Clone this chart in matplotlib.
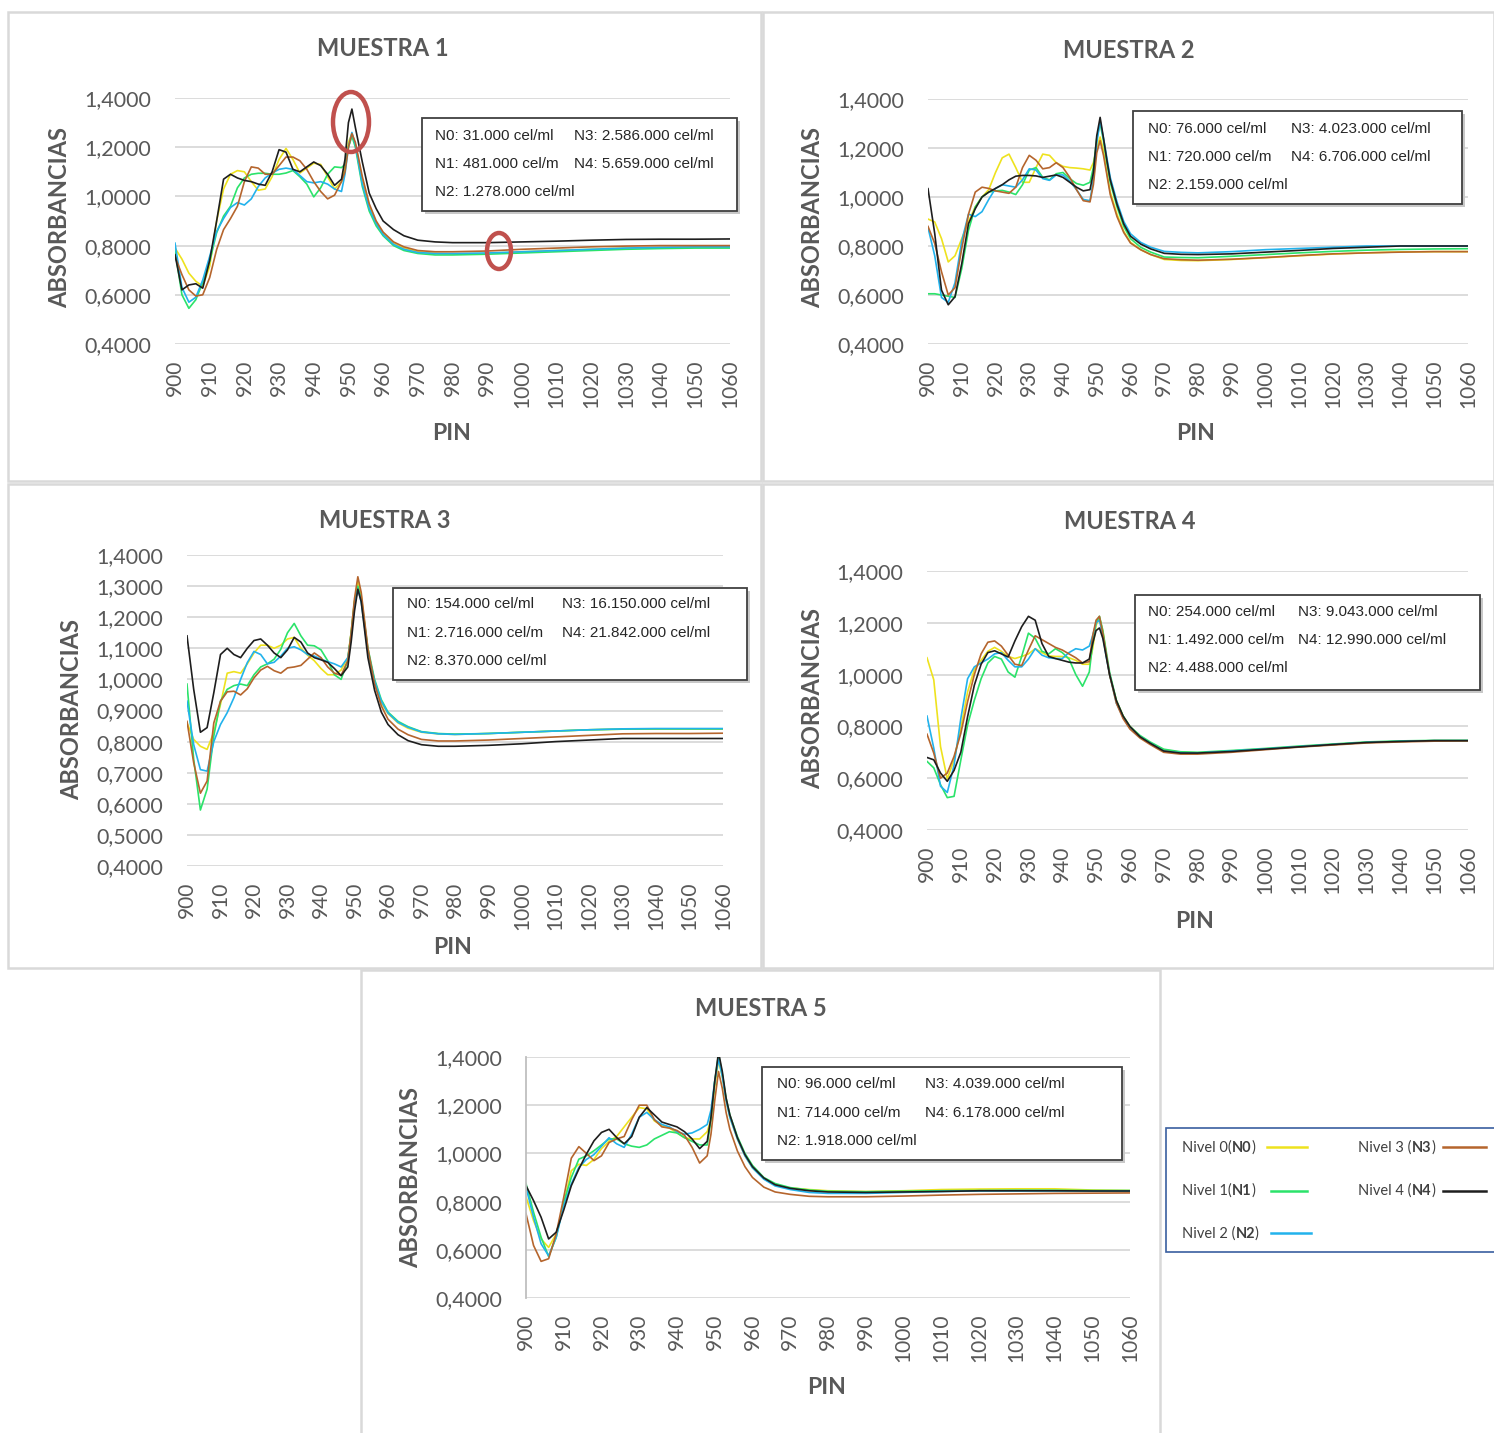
import matplotlib
matplotlib.use("Agg")
import matplotlib.pyplot as plt
import numpy as np
from matplotlib.patches import Rectangle, Ellipse
from matplotlib.ticker import FuncFormatter

W, H = 1494, 1433
FONT = ["Lato", "DejaVu Sans"]
NARROW = ["Liberation Sans Narrow", "Liberation Sans", "DejaVu Sans"]
plt.rcParams["font.family"] = FONT

# ---------------- data ----------------
pin = [900, 902, 904, 906, 908, 910, 912, 914, 916, 918,
       920, 922, 924, 926, 928, 930, 932, 934, 936, 938,
       940, 942, 944, 946, 948, 949, 950, 951, 952, 953, 954,
       956, 958, 960, 963, 966, 970, 975, 980, 990, 1000, 1010, 1020, 1030, 1040, 1050, 1060]

level_names = ["N0", "N1", "N2", "N3", "N4"]
level_colors = ["#EEE21E", "#2BE36A", "#22B2EC", "#B5652D", "#1E1E1E"]

# MUESTRA 1
m1_n0 = [0.790, 0.745, 0.688, 0.655, 0.635, 0.716, 0.900, 1.030, 1.090, 1.105,
         1.100, 1.060, 1.025, 1.030, 1.080, 1.150, 1.195, 1.150, 1.095, 1.115,
         1.135, 1.130, 1.080, 1.030, 1.060, 1.120, 1.220, 1.255, 1.210, 1.140, 1.070,
         0.960, 0.890, 0.850, 0.810, 0.790, 0.775, 0.768, 0.766, 0.768, 0.775, 0.780, 0.785, 0.790, 0.792, 0.793, 0.794]
m1_n1 = [0.780, 0.600, 0.545, 0.580, 0.650, 0.736, 0.852, 0.920, 0.960, 1.035,
         1.075, 1.090, 1.094, 1.094, 1.090, 1.090, 1.095, 1.105, 1.080, 1.050,
         0.998, 1.035, 1.090, 1.120, 1.117, 1.130, 1.200, 1.245, 1.200, 1.120, 1.040,
         0.940, 0.880, 0.840, 0.800, 0.780, 0.768, 0.762, 0.762, 0.765, 0.770, 0.775, 0.780, 0.785, 0.788, 0.790, 0.790]
m1_n2 = [0.810, 0.630, 0.570, 0.590, 0.660, 0.756, 0.858, 0.910, 0.955, 0.975,
         0.965, 0.990, 1.040, 1.075, 1.095, 1.110, 1.115, 1.110, 1.085, 1.060,
         1.055, 1.060, 1.050, 1.030, 1.020, 1.090, 1.200, 1.260, 1.210, 1.130, 1.050,
         0.950, 0.890, 0.845, 0.805, 0.785, 0.772, 0.768, 0.768, 0.770, 0.775, 0.780, 0.785, 0.790, 0.793, 0.795, 0.795]
m1_n3 = [0.756, 0.682, 0.620, 0.595, 0.600, 0.670, 0.784, 0.865, 0.910, 0.960,
         1.060, 1.120, 1.115, 1.090, 1.090, 1.125, 1.160, 1.160, 1.145, 1.110,
         1.060, 1.020, 0.990, 1.005, 1.060, 1.100, 1.200, 1.255, 1.220, 1.150, 1.080,
         0.970, 0.900, 0.855, 0.815, 0.795, 0.780, 0.775, 0.775, 0.778, 0.785, 0.790, 0.795, 0.798, 0.800, 0.800, 0.800]
m1_n4 = [0.763, 0.620, 0.640, 0.645, 0.627, 0.740, 0.900, 1.070, 1.090, 1.075,
         1.065, 1.060, 1.050, 1.045, 1.100, 1.190, 1.180, 1.110, 1.100, 1.120,
         1.140, 1.125, 1.090, 1.045, 1.070, 1.150, 1.300, 1.355, 1.280, 1.210, 1.140,
         1.013, 0.950, 0.900, 0.865, 0.840, 0.822, 0.815, 0.812, 0.812, 0.815, 0.818, 0.822, 0.825, 0.826, 0.826, 0.827]

# MUESTRA 2
m2_n0 = [0.910, 0.898, 0.830, 0.735, 0.760, 0.830, 0.900, 0.960, 1.000, 1.030,
         1.100, 1.160, 1.175, 1.120, 1.060, 1.060, 1.120, 1.175, 1.170, 1.140,
         1.125, 1.120, 1.118, 1.115, 1.110, 1.140, 1.200, 1.245, 1.190, 1.100, 1.020,
         0.930, 0.860, 0.815, 0.785, 0.765, 0.745, 0.741, 0.740, 0.745, 0.752, 0.760, 0.767, 0.772, 0.776, 0.777, 0.777]
m2_n1 = [0.605, 0.605, 0.600, 0.595, 0.590, 0.708, 0.864, 0.959, 1.000, 1.020,
         1.025, 1.027, 1.020, 1.010, 1.050, 1.110, 1.120, 1.080, 1.070, 1.095,
         1.100, 1.075, 1.055, 1.048, 1.060, 1.120, 1.240, 1.300, 1.230, 1.140, 1.060,
         0.960, 0.880, 0.830, 0.795, 0.775, 0.755, 0.753, 0.752, 0.758, 0.765, 0.772, 0.778, 0.783, 0.786, 0.788, 0.789]
m2_n2 = [0.875, 0.760, 0.590, 0.570, 0.650, 0.820, 0.930, 0.920, 0.940, 0.990,
         1.035, 1.050, 1.045, 1.040, 1.070, 1.115, 1.110, 1.075, 1.068, 1.090,
         1.090, 1.065, 1.030, 0.990, 0.985, 1.070, 1.220, 1.310, 1.240, 1.160, 1.080,
         0.980, 0.900, 0.850, 0.815, 0.795, 0.778, 0.774, 0.772, 0.777, 0.785, 0.790, 0.795, 0.800, 0.800, 0.800, 0.800]
m2_n3 = [0.880, 0.810, 0.695, 0.600, 0.630, 0.790, 0.930, 1.020, 1.040, 1.035,
         1.025, 1.020, 1.015, 1.040, 1.120, 1.170, 1.150, 1.115, 1.120, 1.140,
         1.120, 1.080, 1.030, 0.985, 0.980, 1.050, 1.180, 1.230, 1.170, 1.090, 1.010,
         0.920, 0.855, 0.812, 0.785, 0.765, 0.748, 0.744, 0.742, 0.746, 0.753, 0.761, 0.768, 0.772, 0.775, 0.777, 0.777]
m2_n4 = [1.034, 0.850, 0.620, 0.560, 0.593, 0.728, 0.891, 0.952, 1.000, 1.020,
         1.035, 1.050, 1.070, 1.085, 1.088, 1.088, 1.086, 1.080, 1.085, 1.090,
         1.080, 1.060, 1.040, 1.025, 1.030, 1.100, 1.250, 1.325, 1.240, 1.150, 1.070,
         0.970, 0.890, 0.840, 0.808, 0.788, 0.770, 0.766, 0.765, 0.768, 0.775, 0.782, 0.790, 0.795, 0.800, 0.800, 0.800]

# MUESTRA 3
m3_n0 = [0.860, 0.807, 0.785, 0.775, 0.830, 0.920, 1.020, 1.025, 1.020, 1.050,
         1.085, 1.110, 1.110, 1.100, 1.110, 1.130, 1.135, 1.100, 1.078, 1.060,
         1.035, 1.015, 1.015, 1.030, 1.070, 1.150, 1.250, 1.315, 1.270, 1.180, 1.090,
         0.990, 0.925, 0.890, 0.860, 0.843, 0.830, 0.825, 0.823, 0.826, 0.830, 0.834, 0.838, 0.840, 0.840, 0.840, 0.840]
m3_n1 = [0.985, 0.743, 0.580, 0.647, 0.818, 0.930, 0.968, 0.980, 0.985, 0.980,
         1.015, 1.040, 1.050, 1.065, 1.097, 1.150, 1.180, 1.140, 1.110, 1.108,
         1.095, 1.060, 1.015, 1.000, 1.060, 1.150, 1.250, 1.300, 1.260, 1.180, 1.100,
         1.000, 0.935, 0.895, 0.865, 0.848, 0.832, 0.826, 0.824, 0.826, 0.830, 0.834, 0.838, 0.840, 0.841, 0.841, 0.841]
m3_n2 = [0.930, 0.790, 0.710, 0.705, 0.800, 0.855, 0.893, 0.941, 1.000, 1.054,
         1.090, 1.080, 1.050, 1.055, 1.075, 1.100, 1.105, 1.095, 1.080, 1.075,
         1.065, 1.057, 1.050, 1.040, 1.070, 1.140, 1.240, 1.290, 1.250, 1.170, 1.090,
         0.995, 0.930, 0.892, 0.862, 0.846, 0.831, 0.825, 0.823, 0.826, 0.830, 0.834, 0.838, 0.841, 0.842, 0.842, 0.842]
m3_n3 = [0.865, 0.732, 0.634, 0.673, 0.860, 0.930, 0.960, 0.962, 0.950, 0.970,
         1.005, 1.030, 1.042, 1.028, 1.020, 1.037, 1.040, 1.045, 1.065, 1.085,
         1.070, 1.040, 1.020, 1.013, 1.060, 1.150, 1.260, 1.330, 1.280, 1.190, 1.100,
         0.985, 0.915, 0.872, 0.840, 0.822, 0.807, 0.802, 0.802, 0.805, 0.810, 0.815, 0.820, 0.825, 0.826, 0.826, 0.827]
m3_n4 = [1.140, 0.968, 0.830, 0.845, 0.957, 1.080, 1.100, 1.080, 1.070, 1.100,
         1.125, 1.130, 1.110, 1.085, 1.070, 1.095, 1.135, 1.120, 1.085, 1.070,
         1.063, 1.055, 1.035, 1.012, 1.040, 1.120, 1.220, 1.290, 1.250, 1.160, 1.070,
         0.965, 0.895, 0.855, 0.822, 0.803, 0.790, 0.785, 0.785, 0.788, 0.793, 0.800, 0.805, 0.810, 0.810, 0.810, 0.810]

# MUESTRA 4
m4_n0 = [1.065, 0.980, 0.722, 0.597, 0.671, 0.793, 0.933, 1.020, 1.055, 1.090,
         1.105, 1.090, 1.070, 1.062, 1.070, 1.080, 1.100, 1.085, 1.072, 1.070,
         1.070, 1.065, 1.055, 1.040, 1.040, 1.100, 1.190, 1.220, 1.170, 1.080, 1.000,
         0.900, 0.840, 0.800, 0.760, 0.735, 0.710, 0.700, 0.698, 0.705, 0.713, 0.722, 0.730, 0.738, 0.742, 0.745, 0.745]
m4_n1 = [0.665, 0.640, 0.575, 0.525, 0.530, 0.670, 0.805, 0.901, 0.984, 1.045,
         1.070, 1.060, 1.010, 0.990, 1.070, 1.160, 1.140, 1.090, 1.080, 1.100,
         1.085, 1.060, 1.000, 0.955, 1.010, 1.120, 1.200, 1.225, 1.170, 1.090, 1.010,
         0.900, 0.840, 0.800, 0.765, 0.740, 0.712, 0.702, 0.700, 0.707, 0.715, 0.724, 0.732, 0.740, 0.744, 0.746, 0.746]
m4_n2 = [0.840, 0.716, 0.569, 0.545, 0.650, 0.830, 0.984, 1.030, 1.045, 1.060,
         1.080, 1.085, 1.055, 1.030, 1.030, 1.060, 1.100, 1.075, 1.065, 1.062,
         1.062, 1.085, 1.100, 1.095, 1.110, 1.150, 1.200, 1.210, 1.150, 1.070, 1.000,
         0.890, 0.835, 0.795, 0.760, 0.735, 0.705, 0.698, 0.697, 0.705, 0.713, 0.722, 0.730, 0.738, 0.742, 0.745, 0.745]
m4_n3 = [0.770, 0.697, 0.600, 0.620, 0.684, 0.773, 0.895, 1.000, 1.080, 1.125,
         1.130, 1.110, 1.075, 1.040, 1.035, 1.095, 1.150, 1.135, 1.120, 1.105,
         1.095, 1.080, 1.065, 1.045, 1.050, 1.150, 1.210, 1.225, 1.160, 1.080, 1.000,
         0.890, 0.830, 0.790, 0.755, 0.730, 0.700, 0.693, 0.693, 0.700, 0.710, 0.720, 0.728, 0.736, 0.740, 0.743, 0.744]
m4_n4 = [0.680, 0.671, 0.620, 0.588, 0.630, 0.700, 0.837, 0.959, 1.040, 1.085,
         1.092, 1.080, 1.068, 1.130, 1.185, 1.225, 1.210, 1.120, 1.070, 1.062,
         1.055, 1.048, 1.045, 1.045, 1.060, 1.120, 1.170, 1.180, 1.140, 1.070, 1.000,
         0.900, 0.840, 0.800, 0.760, 0.735, 0.705, 0.697, 0.697, 0.703, 0.712, 0.721, 0.730, 0.738, 0.742, 0.745, 0.745]

# MUESTRA 5
m5_n0 = [0.820, 0.721, 0.645, 0.610, 0.666, 0.790, 0.928, 0.955, 0.950, 0.975,
         1.020, 1.050, 1.070, 1.110, 1.150, 1.190, 1.185, 1.135, 1.115, 1.105,
         1.085, 1.065, 1.060, 1.060, 1.090, 1.140, 1.280, 1.385, 1.320, 1.220, 1.150,
         1.060, 0.990, 0.940, 0.895, 0.870, 0.857, 0.850, 0.845, 0.842, 0.845, 0.850, 0.852, 0.853, 0.853, 0.848, 0.846]
m5_n1 = [0.875, 0.756, 0.652, 0.572, 0.652, 0.797, 0.900, 0.976, 0.990, 1.011,
         1.035, 1.060, 1.060, 1.040, 1.030, 1.025, 1.035, 1.060, 1.075, 1.090,
         1.085, 1.065, 1.050, 1.035, 1.035, 1.140, 1.300, 1.410, 1.330, 1.230, 1.160,
         1.070, 1.000, 0.950, 0.900, 0.875, 0.858, 0.848, 0.843, 0.841, 0.843, 0.845, 0.846, 0.847, 0.847, 0.846, 0.846]
m5_n2 = [0.860, 0.735, 0.625, 0.575, 0.652, 0.783, 0.873, 0.942, 0.975, 0.995,
         1.030, 1.065, 1.040, 1.025, 1.080, 1.150, 1.170, 1.140, 1.120, 1.110,
         1.090, 1.080, 1.085, 1.100, 1.120, 1.180, 1.300, 1.390, 1.320, 1.220, 1.150,
         1.060, 0.990, 0.940, 0.893, 0.865, 0.850, 0.838, 0.834, 0.834, 0.838, 0.842, 0.844, 0.844, 0.844, 0.844, 0.844]
m5_n3 = [0.750, 0.618, 0.552, 0.563, 0.666, 0.818, 0.980, 1.028, 1.000, 0.970,
         0.990, 1.045, 1.060, 1.070, 1.140, 1.200, 1.200, 1.140, 1.110, 1.105,
         1.095, 1.075, 1.025, 0.960, 0.990, 1.080, 1.220, 1.340, 1.270, 1.170, 1.100,
         1.010, 0.945, 0.900, 0.860, 0.840, 0.830, 0.822, 0.820, 0.820, 0.823, 0.827, 0.830, 0.832, 0.834, 0.835, 0.836]
m5_n4 = [0.866, 0.804, 0.735, 0.645, 0.673, 0.765, 0.866, 0.935, 0.997, 1.052,
         1.087, 1.100, 1.066, 1.040, 1.070, 1.150, 1.190, 1.160, 1.130, 1.120,
         1.110, 1.090, 1.060, 1.020, 1.050, 1.150, 1.300, 1.420, 1.340, 1.230, 1.160,
         1.065, 0.995, 0.945, 0.898, 0.870, 0.855, 0.845, 0.840, 0.838, 0.840, 0.842, 0.845, 0.845, 0.845, 0.844, 0.844]

x_ticks = list(range(900, 1061, 10))

titles = ["MUESTRA 1", "MUESTRA 2", "MUESTRA 3", "MUESTRA 4", "MUESTRA 5"]
conc1 = ["N0: 31.000 cel/ml", "N1: 481.000 cel/m", "N2: 1.278.000 cel/ml", "N3: 2.586.000 cel/ml", "N4: 5.659.000 cel/ml"]
conc2 = ["N0: 76.000 cel/ml", "N1: 720.000 cel/m", "N2: 2.159.000 cel/ml", "N3: 4.023.000 cel/ml", "N4: 6.706.000 cel/ml"]
conc3 = ["N0: 154.000 cel/ml", "N1: 2.716.000 cel/m", "N2: 8.370.000 cel/ml", "N3: 16.150.000 cel/ml", "N4: 21.842.000 cel/ml"]
conc4 = ["N0: 254.000 cel/ml", "N1: 1.492.000 cel/m", "N2: 4.488.000 cel/ml", "N3: 9.043.000 cel/ml", "N4: 12.990.000 cel/ml"]
conc5 = ["N0: 96.000 cel/ml", "N1: 714.000 cel/m", "N2: 1.918.000 cel/ml", "N3: 4.039.000 cel/ml", "N4: 6.178.000 cel/ml"]

# ---------------- layout (pixels) ----------------
def fx(x):
    return x / W


def fy(y):
    return 1 - y / H


fig = plt.figure(figsize=(W / 100, H / 100), dpi=100)
fig.patch.set_facecolor("white")

GRAY = "#595959"

panels = [
    dict(series=[m1_n0, m1_n1, m1_n2, m1_n3, m1_n4], conc=conc1, title=titles[0],
         box=(8, 12, 761, 481), ax=(175, 98, 730, 344), ystep=0.2,
         title_xy=(383, 49), ylab_xy=(60, 218), xlab_xy=(452, 434),
         note=(422, 118, 737, 211), note_cols=(435, 574), note_rows=(136, 164, 192), spine=False),
    dict(series=[m2_n0, m2_n1, m2_n2, m2_n3, m2_n4], conc=conc2, title=titles[1],
         box=(763, 12, 1494, 481), ax=(928, 99, 1468, 344), ystep=0.2,
         title_xy=(1129, 50), ylab_xy=(813, 218), xlab_xy=(1196, 433),
         note=(1133, 111, 1462, 204), note_cols=(1148, 1291), note_rows=(129, 157, 185), spine=False),
    dict(series=[m3_n0, m3_n1, m3_n2, m3_n3, m3_n4], conc=conc3, title=titles[2],
         box=(8, 484, 761, 968), ax=(187, 555, 723, 866), ystep=0.1,
         title_xy=(385, 521), ylab_xy=(72, 710), xlab_xy=(453, 948),
         note=(393, 588, 747, 680), note_cols=(407, 562), note_rows=(604, 633, 661), spine=False),
    dict(series=[m4_n0, m4_n1, m4_n2, m4_n3, m4_n4], conc=conc4, title=titles[3],
         box=(763, 484, 1494, 968), ax=(927, 571, 1468, 830), ystep=0.2,
         title_xy=(1130, 522), ylab_xy=(813, 698), xlab_xy=(1195, 921),
         note=(1135, 595, 1480, 690), note_cols=(1148, 1298), note_rows=(612, 640, 668), spine=False),
    dict(series=[m5_n0, m5_n1, m5_n2, m5_n3, m5_n4], conc=conc5, title=titles[4],
         box=(361, 970, 1160, 1440), ax=(526, 1057, 1130, 1298), ystep=0.2,
         title_xy=(761, 1008), ylab_xy=(411, 1177), xlab_xy=(827, 1388),
         note=(762, 1067, 1122, 1160), note_cols=(777, 925), note_rows=(1084, 1113, 1141), spine=True),
]

yfmt = FuncFormatter(lambda v, p: f"{v:.4f}".replace(".", ","))

for P in panels:
    l, t, r, b = P["box"]
    fig.add_artist(Rectangle((fx(l), fy(b)), (r - l) / W, (b - t) / H, transform=fig.transFigure,
                             facecolor="white", edgecolor="#D9D9D9", lw=1.8, zorder=0))
    al, at, ar, ab = P["ax"]
    ax = fig.add_axes([fx(al), fy(ab), (ar - al) / W, (ab - at) / H])
    ax.set_facecolor("none")
    for vals, col in zip(P["series"], level_colors):
        ax.plot(pin, vals, color=col, lw=1.2, solid_joinstyle="round")
    ax.set_xlim(900, 1060)
    ax.set_ylim(0.4, 1.4)
    ax.set_xticks(x_ticks)
    ax.set_xticklabels([str(v) for v in x_ticks], rotation=90)
    ax.set_yticks(np.round(np.arange(0.4, 1.4001, P["ystep"]), 4))
    ax.yaxis.set_major_formatter(yfmt)
    ax.grid(axis="y", color="#D9D9D9", lw=1.3)
    ax.set_axisbelow(True)
    for s in ax.spines.values():
        s.set_visible(False)
    if P["spine"]:
        ax.spines["left"].set_visible(True)
        ax.spines["left"].set_color("#BFBFBF")
        ax.spines["left"].set_linewidth(1.3)
    ax.tick_params(axis="y", length=0, pad=17, labelsize=15.5, labelcolor=GRAY)
    ax.tick_params(axis="x", length=0, pad=11, labelsize=15, labelcolor=GRAY)

    fig.text(fx(P["title_xy"][0]), fy(P["title_xy"][1]), P["title"], ha="center", va="center",
             fontsize=17, fontweight="bold", color=GRAY)
    fig.text(fx(P["ylab_xy"][0]), fy(P["ylab_xy"][1]), "ABSORBANCIAS", ha="center", va="center",
             rotation=90, fontsize=17, fontweight="bold", color=GRAY)
    fig.text(fx(P["xlab_xy"][0]), fy(P["xlab_xy"][1]), "PIN", ha="center", va="center",
             fontsize=16.5, fontweight="bold", color=GRAY)

    nl, nt, nr, nb = P["note"]
    fig.add_artist(Rectangle((fx(nl + 3), fy(nb + 3)), (nr - nl) / W, (nb - nt) / H, transform=fig.transFigure,
                             facecolor="#C8C8C8", edgecolor="none", zorder=2))
    fig.add_artist(Rectangle((fx(nl), fy(nb)), (nr - nl) / W, (nb - nt) / H, transform=fig.transFigure,
                             facecolor="white", edgecolor="#404040", lw=1.3, zorder=2.1))
    c1, c2 = P["note_cols"]
    r1, r2, r3 = P["note_rows"]
    conc = P["conc"]
    for (xx, yy), s in zip([(c1, r1), (c1, r2), (c1, r3), (c2, r1), (c2, r2)], conc):
        fig.text(fx(xx), fy(yy), s, ha="left", va="center", fontsize=11, color="#262626",
                 family=NARROW, zorder=3)

# red ellipses (highlight marks on Muestra 1)
for cx, cy, ew, eh in [(351, 122, 36, 60), (499, 251, 24, 36)]:
    fig.add_artist(Ellipse((fx(cx), fy(cy)), ew / W, eh / H, transform=fig.transFigure,
                           facecolor="none", edgecolor="#C0504D", lw=3.2, zorder=4))

# legend box
fig.add_artist(Rectangle((fx(1166), fy(1252)), (1510 - 1166) / W, (1252 - 1128) / H, transform=fig.transFigure,
                         facecolor="white", edgecolor="#3A5FA0", lw=1.2, zorder=2))
renderer = fig.canvas.get_renderer()


def rich(x, y, parts):
    cx = fx(x)
    for s, w in parts:
        tt = fig.text(cx, fy(y), s, ha="left", va="center", fontsize=10.5, fontweight=w,
                      color="#404040", zorder=3)
        bb = tt.get_window_extent(renderer)
        cx += bb.width / W


legend_items = [
    ((1182, 1148), [("Nivel 0(", "normal"), ("N0", "bold"), (")", "normal")], (1267, 1307, 1147), level_colors[0]),
    ((1182, 1191), [("Nivel 1(", "normal"), ("N1", "bold"), (")", "normal")], (1271, 1307, 1191), level_colors[1]),
    ((1182, 1234), [("Nivel 2 (", "normal"), ("N2", "bold"), (")", "normal")], (1271, 1311, 1233), level_colors[2]),
    ((1358, 1148), [("Nivel 3 (", "normal"), ("N3", "bold"), (")", "normal")], (1443, 1486, 1147), level_colors[3]),
    ((1358, 1191), [("Nivel 4 (", "normal"), ("N4", "bold"), (")", "normal")], (1443, 1486, 1191), level_colors[4]),
]
for (tx, ty), parts, (x0, x1, ly), col in legend_items:
    rich(tx, ty, parts)
    fig.add_artist(plt.Line2D([fx(x0), fx(x1)], [fy(ly), fy(ly)], transform=fig.transFigure,
                              color=col, lw=1.8, zorder=3))

fig.savefig("out.png", dpi=100, facecolor="white")
